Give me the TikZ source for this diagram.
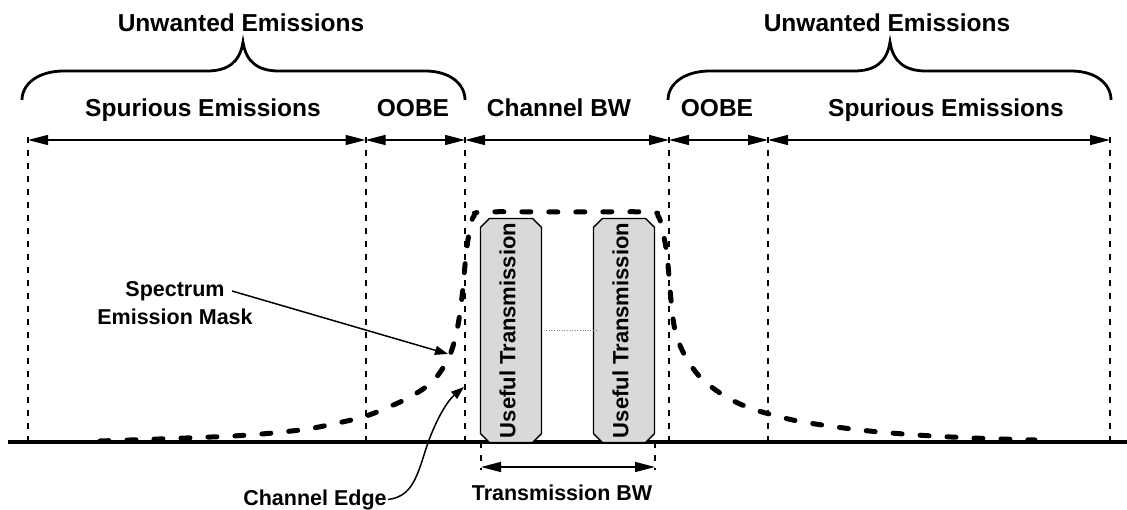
\documentclass[tikz,border=0pt]{standalone}
\usepackage{fontspec}
\setmainfont{Liberation Sans}
\usetikzlibrary{arrows.meta,shapes.misc}
\begin{document}
\begin{tikzpicture}[x=1pt,y=-1pt,
  lbl/.style={font=\fontsize{24.5}{28}\selectfont\bfseries, inner sep=0pt, anchor=base},
  slbl/.style={font=\fontsize{21.5}{28}\selectfont\bfseries, inner sep=1pt, anchor=base},
  vdash/.style={line width=2pt, dash pattern=on 6pt off 7pt},
  dim/.style={line width=1.4pt, {Triangle[length=20pt,width=10pt]}-{Triangle[length=20pt,width=10pt]}},
  brace/.style={line width=2.8pt},
  mask/.style={line width=5pt, dash pattern=on 9pt off 18pt, line cap=round},
  ubox/.style={chamfered rectangle, chamfered rectangle sep=4.5pt, draw, line width=1.3pt,
    fill=black!15, rotate=90, inner sep=0pt, minimum width=223pt, minimum height=61pt,
    text depth=7pt, font=\fontsize{22}{26}\selectfont\bfseries},
  pointer/.style={line width=1.5pt, -{Triangle[length=13pt,width=9pt]}}
]
\useasboundingbox (0,0) rectangle (1127,510);

% baseline
\coordinate (bl) at (8,442);
\coordinate (br) at (1127,442);
\draw[line width=3.4pt] (bl) -- (br);

% vertical dashed boundaries
\foreach \n/\x in {1/28,2/365.5,3/465,4/669,5/768,6/1110}{
  \coordinate (t\n) at (\x,137);
  \coordinate (a\n) at (\x,140);
  \coordinate (b\n) at (\x,442);
  \draw[vdash] (t\n) -- (b\n);
}

% dimension arrows
\draw[dim] (a1) -- (a2);
\draw[dim] (a2) -- (a3);
\draw[dim] (a3) -- (a4);
\draw[dim] (a4) -- (a5);
\draw[dim] (a5) -- (a6);

% braces
\draw[brace] (22,100) .. controls (22,84) and (38,71) .. (64,71) -- (207,71)
  .. controls (228,71) and (240,62) .. (243,42)
  .. controls (246,62) and (258,71) .. (279,71) -- (425,71)
  .. controls (450,71) and (465,84) .. (465,100);
\draw[brace] (668,100) .. controls (668,84) and (684,71) .. (710,71) -- (854,71)
  .. controls (875,71) and (887,62) .. (890,42)
  .. controls (893,62) and (905,71) .. (926,71) -- (1071,71)
  .. controls (1096,71) and (1111,84) .. (1111,100);

% labels
\node[lbl] (uw1) at (241,32) {Unwanted Emissions};
\node[lbl] (uw2) at (887,32) {Unwanted Emissions};
\node[lbl] (sp1) at (203,117) {Spurious Emissions};
\node[lbl] (oo1) at (413,117) {OOBE};
\node[lbl] (cbw) at (559,117) {Channel BW};
\node[lbl] (oo2) at (717,117) {OOBE};
\node[lbl] (sp2) at (946,117) {Spurious Emissions};

% useful transmission boxes
\node[ubox] (ut1) at (511,330.5) {Useful Transmission};
\node[ubox] (ut2) at (624,330.5) {Useful Transmission};
\draw[gray, dotted, line width=0.6pt] ([xshift=4pt]ut1.south) -- ([xshift=4pt]ut2.north);

% spectrum emission mask
\draw[mask] plot[smooth, tension=0.55] coordinates {
  (100,441) (233,436) (300,430) (333,424) (363,417) (384,409) (410,397) (433,381)
  (449,357) (457,330) (462,297) (466,255) (470,228) (474,216) (484,212)
  (566,212) (648,212) (658,216) (662,228) (667,255) (671,300) (675,330) (684,354)
  (700,377) (723,395) (747,407) (773,415) (803,422) (860,430) (917,435) (973,438) (1035,440)};

% transmission BW
\coordinate (tb1) at (481,442);
\coordinate (tb2) at (655,442);
\coordinate (tl1) at (481,470);
\coordinate (tl2) at (655,470);
\coordinate (td1) at (481,467);
\coordinate (td2) at (655,467);
\draw[vdash, line width=1.5pt] (tb1) -- (tl1);
\draw[vdash, line width=1.5pt] (tb2) -- (tl2);
\draw[dim] (td1) -- (td2);
\node[slbl] (tbw) at (562,500) {Transmission BW};

% spectrum emission mask label
\node[slbl, align=center] (sem) at (175,325) {Spectrum\\Emission Mask};
\coordinate (semfrom) at (232,291);
\coordinate (semto) at (448,354);
\draw[pointer] (semfrom) -- (semto);

% channel edge label
\node[slbl] (ce) at (315,505) {Channel Edge};
\coordinate (ceto) at (464,387);
\draw[pointer] (ce.east) .. controls (410,497) and (416,480) .. (424,455)
  .. controls (432,428) and (445,403) .. (ceto);
\end{tikzpicture}
\end{document}
